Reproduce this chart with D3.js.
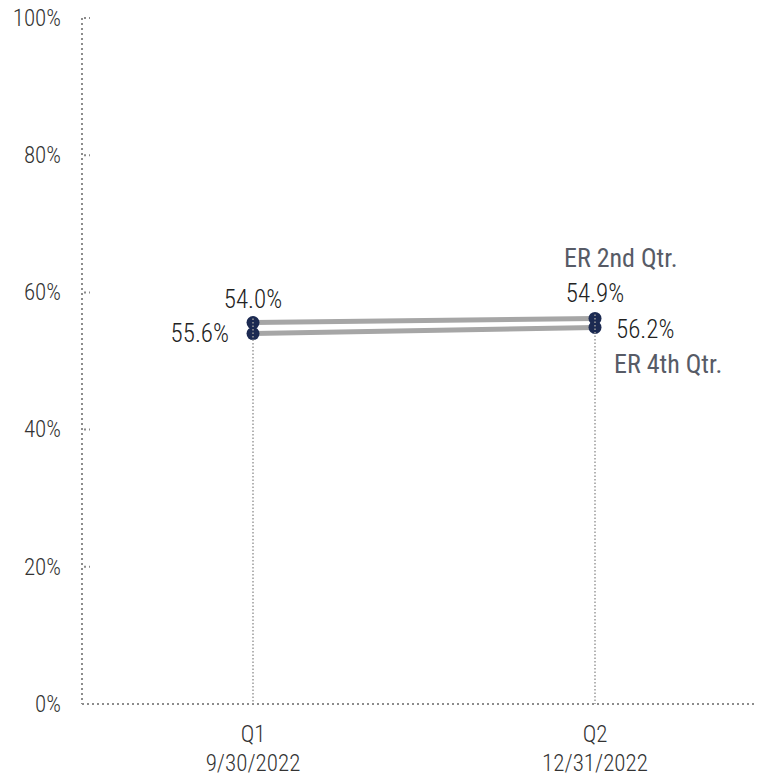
<!DOCTYPE html>
<html>
<head>
<meta charset="utf-8">
<style>
  body { margin: 0; background: #fff; }
  svg text { font-family: Roboto, sans-serif; font-weight: 300; font-stretch: 75%; }
</style>
<script src="https://d3js.org/d3.v7.min.js"></script>
</head>
<body>
<script>
// data
var quarters = ["Q1", "Q2"];
var dates = ["9/30/2022", "12/31/2022"];
var seriesNames = ["ER 2nd Qtr.", "ER 4th Qtr."];
var er2nd = [54.0, 54.9];
var er4th = [55.6, 56.2];
var yTicks = [0, 20, 40, 60, 80, 100];

var width = 760, height = 777;
var margin = {top: 18, right: 3, bottom: 73, left: 82};
var w = width - margin.left - margin.right;
var h = height - margin.top - margin.bottom;

var svg = d3.select("body").append("svg")
  .attr("width", width)
  .attr("height", height);
var g = svg.append("g")
  .attr("transform", "translate(" + margin.left + "," + margin.top + ")");

var x = d3.scalePoint().domain(quarters).range([0, 684]).padding(0.5);
var y = d3.scaleLinear().domain([0, 100]).range([h, 0]);

var series = [
  {name: seriesNames[0], values: er2nd},
  {name: seriesNames[1], values: er4th}
];

// y axis
var yAxis = g.append("g")
  .call(d3.axisLeft(y).tickValues(yTicks).tickSize(0).tickPadding(21)
    .tickFormat(function (d) { return d + "%"; }));
yAxis.select(".domain").remove();
yAxis.selectAll("text").attr("fill", "#333").style("font-size", "23px");
g.append("line")
  .attr("x1", 0).attr("x2", 0).attr("y1", y(100)).attr("y2", y(0))
  .attr("stroke", "#8c8c8c").attr("stroke-width", 2).attr("stroke-dasharray", "2,3");
g.selectAll(".ytick").data(yTicks.slice(1)).enter().append("line")
  .attr("x1", 2).attr("x2", 8)
  .attr("y1", function (d) { return y(d); }).attr("y2", function (d) { return y(d); })
  .attr("stroke", "#8c8c8c").attr("stroke-width", 2).attr("stroke-dasharray", "2,3");

// x axis
g.append("line")
  .attr("x1", 0).attr("x2", w - 1).attr("y1", h).attr("y2", h)
  .attr("stroke", "#8c8c8c").attr("stroke-width", 2).attr("stroke-dasharray", "2,3");
var xl = g.selectAll(".xlab").data(quarters).enter().append("text")
  .attr("text-anchor", "middle")
  .attr("fill", "#333")
  .style("font-size", "23px")
  .attr("transform", function (d) { return "translate(" + x(d) + "," + (h + 38) + ")"; });
xl.append("tspan").attr("x", 0).attr("y", 0).text(function (d) { return d; });
xl.append("tspan").attr("x", 0).attr("y", 29).text(function (d, i) { return dates[i]; });

// lines
var line = d3.line()
  .x(function (d, i) { return x(quarters[i]); })
  .y(function (d) { return y(d); });
g.selectAll(".series").data(series).enter().append("path")
  .attr("d", function (d) { return line(d.values); })
  .attr("fill", "none")
  .attr("stroke", "#a6a6a6")
  .attr("stroke-width", 5);

// points
series.forEach(function (s) {
  g.selectAll(null).data(s.values).enter().append("circle")
    .attr("cx", function (d, i) { return x(quarters[i]); })
    .attr("cy", function (d) { return y(d); })
    .attr("r", 6.5)
    .attr("fill", "#1c2a52");
});

// drop lines
g.selectAll(".drop").data(quarters).enter().append("line")
  .attr("x1", function (d) { return x(d); }).attr("x2", function (d) { return x(d); })
  .attr("y1", function (d, i) { return y(Math.max(er2nd[i], er4th[i])) - 4; })
  .attr("y2", h)
  .attr("stroke", "#9a9a9a").attr("stroke-width", 1.5).attr("stroke-dasharray", "1.5,2");

// value labels: 2nd Qtr above, 4th Qtr beside
g.selectAll(".lab2").data(er2nd).enter().append("text")
  .attr("x", function (d, i) { return x(quarters[i]); })
  .attr("y", function (d) { return y(d) - 34; })
  .attr("dy", "0.35em")
  .attr("text-anchor", "middle")
  .attr("fill", "#222")
  .style("font-size", "25px")
  .text(function (d) { return d.toFixed(1) + "%"; });
g.selectAll(".lab4").data(er4th).enter().append("text")
  .attr("x", function (d, i) { return x(quarters[i]) + (i === 0 ? -24 : 21); })
  .attr("y", function (d) { return y(d) + 11; })
  .attr("dy", "0.35em")
  .attr("text-anchor", function (d, i) { return i === 0 ? "end" : "start"; })
  .attr("fill", "#222")
  .style("font-size", "25px")
  .text(function (d) { return d.toFixed(1) + "%"; });

// series names at the last point
var last = quarters.length - 1;
g.append("text")
  .attr("x", x(quarters[last]) - 31)
  .attr("y", y(er2nd[last]) - 69)
  .attr("dy", "0.35em")
  .attr("fill", "#575b66")
  .style("font-size", "26px")
  .style("font-weight", 400)
  .text(series[0].name);
g.append("text")
  .attr("x", x(quarters[last]) + 19)
  .attr("y", y(er4th[last]) + 45)
  .attr("dy", "0.35em")
  .attr("fill", "#575b66")
  .style("font-size", "26px")
  .style("font-weight", 400)
  .text(series[1].name);
</script>
</body>
</html>
